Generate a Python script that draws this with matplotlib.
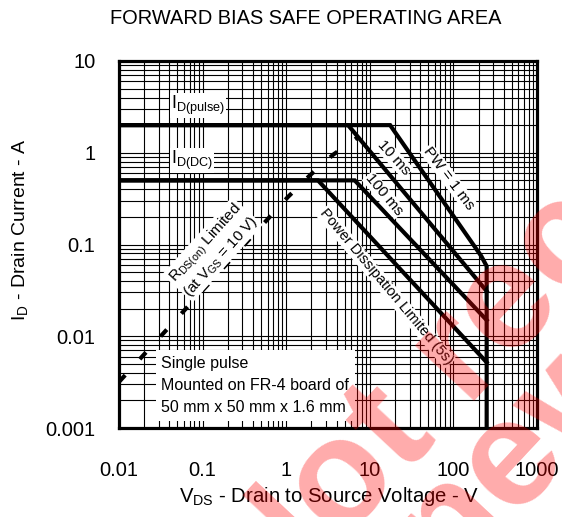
import matplotlib
matplotlib.use("Agg")
import matplotlib.pyplot as plt
from matplotlib.ticker import FixedLocator, FuncFormatter, LogLocator, NullFormatter

plt.rcParams['font.family'] = ['Liberation Sans', 'DejaVu Sans']
plt.rcParams['mathtext.fontset'] = 'custom'
plt.rcParams['mathtext.rm'] = 'Liberation Sans'
plt.rcParams['mathtext.it'] = 'Liberation Sans'

# ---- data ----
x_ticks = [0.01, 0.1, 1, 10, 100, 1000]
y_ticks = [0.001, 0.01, 0.1, 1, 10]

pw1ms_v = [0.01, 17.5, 215, 250, 250]
pw1ms_i = [2.0, 2.0, 0.075, 0.058, 0.001]
pw10ms_v = [0.01, 5.5, 250]
pw10ms_i = [2.0, 2.0, 0.031]
pw100ms_v = [0.01, 6.6, 250]
pw100ms_i = [0.5, 0.5, 0.015]
pd_v = [0.01, 2.4, 250]
pd_i = [0.5, 0.5, 0.0052]
rds_v = [0.01, 1.05, 1.93, 3.63, 7.0]
rds_i = [0.00318, 0.33, 0.57, 0.95, 1.45]

fig = plt.figure(figsize=(5.62, 5.17), dpi=100)
ax = fig.add_axes([119/562, 1-428/517, (537-119)/562, (428-61)/517])
ax.set_xscale('log')
ax.set_yscale('log')
ax.set_xlim(0.01, 1000)
ax.set_ylim(0.001, 10)

ax.xaxis.set_major_locator(FixedLocator(x_ticks))
ax.yaxis.set_major_locator(FixedLocator(y_ticks))
ax.xaxis.set_minor_locator(LogLocator(base=10, subs=range(2, 10), numticks=20))
ax.yaxis.set_minor_locator(LogLocator(base=10, subs=range(2, 10), numticks=20))
fmt = FuncFormatter(lambda v, p: '%g' % v)
ax.xaxis.set_major_formatter(fmt)
ax.yaxis.set_major_formatter(fmt)
ax.xaxis.set_minor_formatter(NullFormatter())
ax.yaxis.set_minor_formatter(NullFormatter())
ax.tick_params(which='both', length=0, labelsize=14.5)
ax.tick_params(axis='x', pad=24)
ax.tick_params(axis='y', pad=17)
ax.grid(which='both', color='black', lw=0.8)
for s in ax.spines.values():
    s.set_linewidth(2.3)

lw = 3.0
for v, i in [(pw1ms_v, pw1ms_i), (pw10ms_v, pw10ms_i), (pw100ms_v, pw100ms_i), (pd_v, pd_i)]:
    ax.plot(v, i, color='black', lw=lw, solid_joinstyle='miter', zorder=3)
ax.plot(rds_v, rds_i, color='black', lw=3.0, dashes=(2.2, 5.2), dash_capstyle='butt', zorder=3)

wbox = dict(facecolor='white', edgecolor='none', pad=0.6)
ax.text(0.042, 3.3, r'$\mathregular{I_{D(pulse)}}$', fontsize=13, ha='left', va='center', bbox=wbox, zorder=4)
ax.text(0.042, 0.83, r'$\mathregular{I_{D(DC)}}$', fontsize=13, ha='left', va='center', bbox=wbox, zorder=4)
ax.text(0.133, 0.087, r'$\mathregular{R_{DS(on)}}$ Limited' + '\n' + r'(at $\mathregular{V_{GS}}$ = 10 V)',
        fontsize=11, ha='center', va='center', rotation=48, linespacing=1.1, bbox=wbox, zorder=4)
ax.text(19.5, 0.877, '10 ms', fontsize=11, ha='center', va='center', rotation=-48, bbox=wbox, zorder=4)
ax.text(88, 0.53, 'PW = 1 ms', fontsize=11, ha='center', va='center', rotation=-53, bbox=wbox, zorder=4)
ax.text(14.8, 0.347, '100 ms', fontsize=11, ha='center', va='center', rotation=-50, bbox=wbox, zorder=4)
ax.text(15.6, 0.0344, 'Power Dissipation Limited (5s)', fontsize=10.5, ha='center', va='center',
        rotation=-50, bbox=wbox, zorder=4)
ax.text(0.032, 0.0061, 'Single pulse\nMounted on FR-4 board of\n50 mm x 50 mm x 1.6 mm',
        fontsize=11.5, ha='left', va='top', linespacing=1.6,
        bbox=dict(facecolor='white', edgecolor='none', pad=4), zorder=4)

fig.text(306/562, 1-18/517, 'FORWARD BIAS SAFE OPERATING AREA', fontsize=14.4, ha='center', va='center')
fig.text(329/562, 1-497/517, r'$\mathregular{V_{DS}}$ - Drain to Source Voltage - V', fontsize=14.6, ha='center', va='center')
fig.text(20/562, 1-230/517, r'$\mathregular{I_{D}}$ - Drain Current - A', fontsize=14, ha='center', va='center', rotation=90)

# watermark (partially visible, lower right)
wm = dict(fontsize=110, fontweight='bold', color='red', alpha=0.33, rotation=47,
          rotation_mode='anchor', ha='left', va='baseline', zorder=10)
fig.text(265/562, 1-625/517, 'Not recommended', **wm)
fig.text(283/562, 1-770/517, 'for new design', **wm)

fig.savefig('out.png', dpi=100)
